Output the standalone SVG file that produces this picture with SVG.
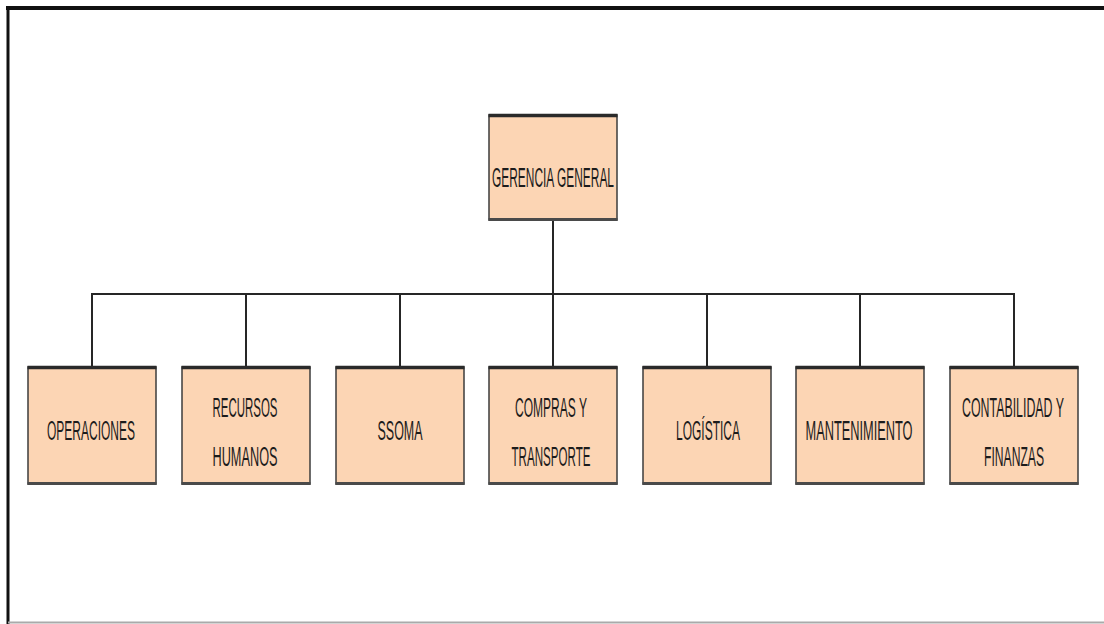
<svg xmlns="http://www.w3.org/2000/svg" width="1104" height="624" viewBox="0 0 1104 624">
  <style>
    .box { fill: #FCD5B4; stroke: #3c3c3c; stroke-width: 1.5; }
    .edge-top { stroke: #2a2a2a; stroke-width: 3.5; }
    .edge-bot { stroke: #4a4a4a; stroke-width: 3; }
    .lbl { font-family: "Liberation Sans", Arial, sans-serif; font-size: 28px; fill: #1c1c1c; text-anchor: middle; }
    .conn { stroke: #262626; stroke-width: 2; fill: none; }
  </style>
  <defs>
    <g id="frame-box">
      <rect class="box" x="0" y="0" width="128" height="117"/>
      <line class="edge-top" x1="-0.5" y1="0.5" x2="128.5" y2="0.5"/>
      <line class="edge-bot" x1="-0.5" y1="116.5" x2="128.5" y2="116.5"/>
    </g>
  </defs>

  <rect x="0" y="0" width="1104" height="624" fill="#ffffff"/>

  <!-- page frame -->
  <line x1="6" y1="8" x2="1104" y2="8" stroke="#111" stroke-width="4"/>
  <line x1="8" y1="6" x2="8" y2="624" stroke="#111" stroke-width="3"/>
  <line x1="8" y1="622.5" x2="1104" y2="622.5" stroke="#aaaaaa" stroke-width="2"/>

  <!-- connectors -->
  <g id="connectors">
    <line class="conn" x1="553" y1="220" x2="553" y2="294"/>
    <line class="conn" x1="91" y1="294" x2="1015" y2="294"/>
    <line class="conn" x1="92" y1="293" x2="92" y2="367"/>
    <line class="conn" x1="246" y1="294" x2="246" y2="367"/>
    <line class="conn" x1="400" y1="294" x2="400" y2="367"/>
    <line class="conn" x1="553" y1="294" x2="553" y2="367"/>
    <line class="conn" x1="707" y1="294" x2="707" y2="367"/>
    <line class="conn" x1="860" y1="294" x2="860" y2="367"/>
    <line class="conn" x1="1014" y1="293" x2="1014" y2="367"/>
  </g>

  <!-- labels are drawn at half width (condensed lettering) -->
  <g id="gerencia-general">
    <rect class="box" x="489" y="115" width="128" height="105"/>
    <line class="edge-top" x1="488.5" y1="115.5" x2="617.5" y2="115.5"/>
    <line class="edge-bot" x1="488.5" y1="219.5" x2="617.5" y2="219.5"/>
    <text class="lbl" transform="translate(553 187) scale(0.5 1)" textLength="244" lengthAdjust="spacingAndGlyphs">GERENCIA GENERAL</text>
  </g>

  <g id="operaciones">
    <use href="#frame-box" x="28" y="367"/>
    <text class="lbl" transform="translate(91 440) scale(0.5 1)" textLength="176" lengthAdjust="spacingAndGlyphs">OPERACIONES</text>
  </g>

  <g id="recursos-humanos">
    <use href="#frame-box" x="182" y="367"/>
    <text class="lbl" transform="translate(245 417) scale(0.5 1)" textLength="130" lengthAdjust="spacingAndGlyphs">RECURSOS</text>
    <text class="lbl" transform="translate(245 466) scale(0.5 1)" textLength="130" lengthAdjust="spacingAndGlyphs">HUMANOS</text>
  </g>

  <g id="ssoma">
    <use href="#frame-box" x="336" y="367"/>
    <text class="lbl" transform="translate(400 440) scale(0.5 1)" textLength="90" lengthAdjust="spacingAndGlyphs">SSOMA</text>
  </g>

  <g id="compras-transporte">
    <use href="#frame-box" x="489" y="367"/>
    <text class="lbl" transform="translate(551 417) scale(0.5 1)" textLength="144" lengthAdjust="spacingAndGlyphs">COMPRAS Y</text>
    <text class="lbl" transform="translate(551 466) scale(0.5 1)" textLength="158" lengthAdjust="spacingAndGlyphs">TRANSPORTE</text>
  </g>

  <g id="logistica">
    <use href="#frame-box" x="643" y="367"/>
    <text class="lbl" transform="translate(708 440) scale(0.5 1)" textLength="128" lengthAdjust="spacingAndGlyphs">LOGÍSTICA</text>
  </g>

  <g id="mantenimiento">
    <use href="#frame-box" x="796" y="367"/>
    <text class="lbl" transform="translate(859 440) scale(0.5 1)" textLength="214" lengthAdjust="spacingAndGlyphs">MANTENIMIENTO</text>
  </g>

  <g id="contabilidad-finanzas">
    <use href="#frame-box" x="950" y="367"/>
    <text class="lbl" transform="translate(1013 417) scale(0.5 1)" textLength="204" lengthAdjust="spacingAndGlyphs">CONTABILIDAD Y</text>
    <text class="lbl" transform="translate(1014 466) scale(0.5 1)" textLength="120" lengthAdjust="spacingAndGlyphs">FINANZAS</text>
  </g>
</svg>
